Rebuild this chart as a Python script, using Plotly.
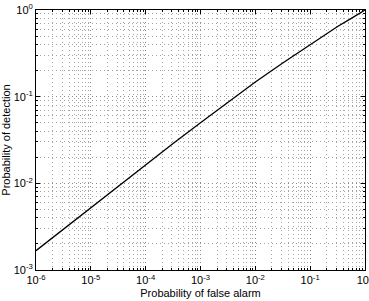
import plotly.graph_objects as go

# Probability of false alarm (x) and probability of detection (y)
pfa = [1e-6, 10**-5.5, 1e-5, 10**-4.5, 1e-4, 10**-3.5, 1e-3, 10**-2.5, 1e-2,
       10**-1.5, 1e-1, 10**-0.75, 10**-0.5, 10**-0.25, 1.0]
pd_vals = [0.00167, 0.00296, 0.00525, 0.00933, 0.0166, 0.0288, 0.0501, 0.0871,
           0.148, 0.245, 0.398, 0.513, 0.646, 0.80, 1.0]

x_decades = [-6, -5, -4, -3, -2, -1, 0]
y_decades = [-3, -2, -1, 0]
x_ticktext = ["10<sup>-6</sup>", "10<sup>-5</sup>", "10<sup>-4</sup>", "10<sup>-3</sup>",
              "10<sup>-2</sup>", "10<sup>-1</sup>", "10<sup>0</sup>"]
y_ticktext = ["10<sup>-3</sup>", "10<sup>-2</sup>", "10<sup>-1</sup>", "10<sup>0</sup>"]

x_title = "Probability of false alarm"
y_title = "Probability of detection"

x_tickvals = [10.0 ** d for d in x_decades]
y_tickvals = [10.0 ** d for d in y_decades]
x_minor = [k * 10.0 ** d for d in x_decades[:-1] for k in range(2, 10)]
y_minor = [k * 10.0 ** d for d in y_decades[:-1] for k in range(2, 10)]

fig = go.Figure()
fig.add_trace(go.Scatter(x=pfa, y=pd_vals, mode="lines",
                         line=dict(color="black", width=1.3), showlegend=False))

font = dict(family="Liberation Sans, Arial, sans-serif", size=11, color="black")
grid = dict(showgrid=True, gridcolor="#8a8a8a", gridwidth=1, griddash="1px,3px")


def minor(vals):
    return dict(tickvals=vals, showgrid=True, gridcolor="#a5a5a5", gridwidth=1,
                griddash="1px,3px", ticks="inside", ticklen=2, tickcolor="black")


fig.update_xaxes(type="log", range=[-6, 0], tickvals=x_tickvals, ticktext=x_ticktext,
                 showline=True, linecolor="black", linewidth=1, mirror="ticks",
                 ticks="inside", ticklen=4, tickcolor="black",
                 ticklabeloverflow="allow", automargin=False,
                 title=dict(text=x_title, font=font, standoff=4),
                 tickfont=font, zeroline=False, minor=minor(x_minor), **grid)
fig.update_yaxes(type="log", range=[-3, 0], tickvals=y_tickvals, ticktext=y_ticktext,
                 showline=True, linecolor="black", linewidth=1, mirror="ticks",
                 ticks="inside", ticklen=4, tickcolor="black",
                 ticklabeloverflow="allow", automargin=False,
                 title=dict(text=y_title, font=font, standoff=2),
                 tickfont=font, zeroline=False, minor=minor(y_minor), **grid)

fig.update_layout(width=369, height=301,
                  margin=dict(l=36, r=4, t=10, b=31),
                  paper_bgcolor="white", plot_bgcolor="white", font=font)

fig.write_html("out.html")
